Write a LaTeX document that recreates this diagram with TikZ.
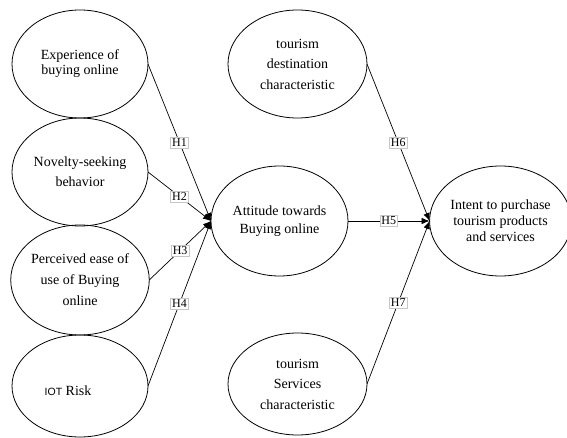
\documentclass[tikz,border=0pt]{standalone}
\usepackage{fontspec}
\setmainfont{Liberation Serif}
\newfontfamily\iotfont{Liberation Sans}
\usetikzlibrary{shapes.geometric,arrows.meta}
\begin{document}
\begin{tikzpicture}[x=1pt,y=-1pt,
 construct/.style={draw, ellipse, line width=0.8pt, inner sep=0pt, outer sep=0pt, align=center, minimum width=136pt, minimum height=108pt},
 hyp/.style={draw=gray!45, fill=white, line width=0.5pt, inner sep=1.5pt, font=\fontsize{12}{13}\selectfont},
 link/.style={line width=0.7pt, -{Latex[length=8pt,width=6.5pt]}}]
\useasboundingbox (0,0) rectangle (567,438);
% left column
\node[construct, font=\fontsize{14}{15}\selectfont] (exp) at (80,64) {Experience of\\buying online};
\node[construct, font=\fontsize{14}{20}\selectfont] (nov) at (80,172) {Novelty-seeking\\behavior};
\node[construct, font=\fontsize{14}{21}\selectfont, minimum height=110pt] (peou) at (80,280) {Perceived ease of\\use of Buying\\online};
\node[construct, minimum height=102pt] (iot) at (80,386) {};
\node[font=\fontsize{14}{16}\selectfont, inner sep=0pt] (iottext) at (68,391) {{\iotfont\fontsize{10.5}{12}\selectfont IOT} Risk};
% middle column
\node[construct, font=\fontsize{14}{20.5}\selectfont, minimum width=139pt] (dest) at (297.5,64) {tourism\\destination\\characteristic};
\node[construct, font=\fontsize{14}{18}\selectfont, minimum width=137pt, minimum height=110pt] (att) at (279.5,221) {Attitude towards\\Buying online};
\node[construct, font=\fontsize{14}{20.5}\selectfont, minimum width=139pt, minimum height=102pt] (serv) at (297.5,384) {tourism\\Services\\characteristic};
% right
\node[construct, font=\fontsize{14}{16}\selectfont, minimum width=133pt, minimum height=110pt] (intent) at (500.5,221) {Intent to purchase\\tourism products\\and services};
% connectors
\draw[link] (exp.east) -- node[hyp] (h1) {H1} (att.west);
\draw[link] (nov.east) -- node[hyp] (h2) {H2} (att.west);
\draw[link] (peou.east) -- node[hyp] (h3) {H3} (att.west);
\draw[link] (iot.east) -- node[hyp] (h4) {H4} (att.west);
\draw[link] (att.east) -- node[hyp] (h5) {H5} (intent.west);
\draw[link] (dest.east) -- node[hyp] (h6) {H6} (intent.west);
\draw[link] (serv.east) -- node[hyp] (h7) {H7} (intent.west);
\end{tikzpicture}
\end{document}
